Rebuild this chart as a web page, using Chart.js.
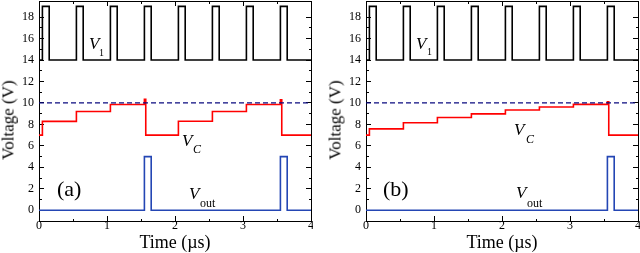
<!DOCTYPE html>
<html>
<head>
<meta charset="UTF-8">
<title>Voltage vs time</title>
<style>
  body { margin: 0; background: #fff; }
  #wrap { position: relative; width: 640px; height: 253px; overflow: hidden;
          font-family: "Liberation Serif", "Times New Roman", serif; font-weight: normal; }
  .panel { position: absolute; top: 0; width: 313px; height: 253px; }
  .lab { position: absolute; line-height: 1; white-space: nowrap; color: #000; }
  .it { font-style: italic; }
  .ytitle { position: absolute; font-size: 17px; line-height: 1; white-space: nowrap; font-weight: normal;
            transform: translate(-50%, -50%) rotate(-90deg); }
</style>
<script src="https://cdn.jsdelivr.net/npm/chart.js"></script>
</head>
<body>
<div id="wrap">
  <div class="panel" style="left:0"><canvas id="chartA" width="313" height="253"></canvas></div>
  <div class="panel" style="left:327px"><canvas id="chartB" width="313" height="253"></canvas></div>

  <span class="ytitle" style="left:8px;top:120px">Voltage (V)</span>
  <span class="ytitle" style="left:335px;top:120px">Voltage (V)</span>

  <!-- panel (a) labels -->
  <span class="lab it" style="left:89px;top:35px;font-size:17px">V</span>
  <span class="lab" style="left:99px;top:47.5px;font-size:10px">1</span>
  <span class="lab it" style="left:182px;top:132px;font-size:17px">V</span>
  <span class="lab it" style="left:193px;top:143px;font-size:12px">C</span>
  <span class="lab it" style="left:189px;top:185px;font-size:17px">V</span>
  <span class="lab" style="left:200px;top:197px;font-size:12px">out</span>
  <span class="lab" style="left:57px;top:177.5px;font-size:22px">(a)</span>

  <!-- panel (b) labels -->
  <span class="lab it" style="left:416px;top:34.5px;font-size:17px">V</span>
  <span class="lab" style="left:427px;top:46.5px;font-size:10px">1</span>
  <span class="lab it" style="left:514px;top:121px;font-size:17px">V</span>
  <span class="lab it" style="left:526px;top:133px;font-size:12px">C</span>
  <span class="lab it" style="left:516px;top:184px;font-size:17px">V</span>
  <span class="lab" style="left:527px;top:197px;font-size:12px">out</span>
  <span class="lab" style="left:383px;top:177.5px;font-size:22px">(b)</span>
</div>

<script>
// V1 square wave (same in both panels): time of each change and new level
var v1Times  = [0, 0.05, 0.15, 0.55, 0.65, 1.05, 1.15, 1.55, 1.65, 2.05, 2.15, 2.55, 2.65, 3.05, 3.15, 3.55, 3.65, 4];
var v1Levels = [14, 19, 14, 19, 14, 19, 14, 19, 14, 19, 14, 19, 14, 19, 14, 19, 14, 14];

// panel (a)
var vcTimesA   = [0, 0.05, 0.55, 1.05, 1.55, 1.57, 2.05, 2.55, 3.05, 3.55, 3.57, 4];
var vcLevelsA  = [7, 8.28, 9.2, 9.85, 10.35, 7, 8.3, 9.2, 9.85, 10.3, 7, 7];
var outTimesA  = [0, 1.55, 1.65, 3.55, 3.65, 4];
var outLevelsA = [0, 5, 0, 5, 0, 0];

// panel (b)
var vcTimesB   = [0, 0.05, 0.55, 1.05, 1.55, 2.05, 2.55, 3.05, 3.55, 3.57, 4];
var vcLevelsB  = [7, 7.58, 8.15, 8.65, 8.98, 9.35, 9.62, 9.87, 10.1, 7, 7];
var outTimesB  = [0, 3.55, 3.65, 4];
var outLevelsB = [0, 5, 0, 0];

// reference level (dashed)
var refTimes  = [0, 4];
var refLevels = [10, 10];

var timeRange = [0, 4];
var voltRange = [-1, 19.5];

Chart.defaults.font.family = "'Liberation Serif', 'Times New Roman', serif";
Chart.defaults.font.weight = 'normal';
Chart.defaults.color = '#000';

function pts(times, levels) {
    return times.map(function (t, i) { return { x: t, y: levels[i] }; });
}

function isMajorX(v) { return Math.abs(v - Math.round(v)) < 1e-6; }
function isMajorY(v) { return Math.abs(v / 2 - Math.round(v / 2)) < 1e-6; }

// minor ticks are shorter: cut them with a dash pattern
function dash(isMajor, fromBorder) {
    return function (ctx) {
        var v = ctx.tick ? ctx.tick.value : 0;
        if (isMajor(v)) return [];
        return fromBorder ? [3, 30] : [0, 2, 3, 30];
    };
}

function grid(isMajor, fromBorder) {
    return {
        drawOnChartArea: false,
        drawTicks: true,
        tickLength: -5,
        tickColor: '#000',
        tickWidth: 1,
        tickBorderDash: dash(isMajor, fromBorder)
    };
}

// keep the plot box where we want it: no extra room for label overhang
function fixBox(w, h) {
    return function (s) {
        if (w !== null) s.width = w;
        if (h !== null) s.height = h;
        s.paddingTop = 0; s.paddingBottom = 0; s.paddingLeft = 0; s.paddingRight = 0;
    };
}

var border = { display: true, color: '#000', width: 1 };
var tickFont = { family: 'Liberation Serif', size: 12, weight: 'normal' };
var titleFont = { family: 'Liberation Serif', size: 18, lineHeight: 1, weight: 'normal' };

function makeChart(id, vcT, vcL, outT, outL) {
    var ctx = document.getElementById(id).getContext('2d');
    return new Chart(ctx, {
        type: 'line',
        data: {
            datasets: [
                { data: pts(v1Times, v1Levels), borderColor: '#000', borderWidth: 1.6, stepped: true, pointRadius: 0 },
                { data: pts(refTimes, refLevels), borderColor: '#0a0a80', borderWidth: 1.2, borderDash: [5, 3], pointRadius: 0 },
                { data: pts(vcT, vcL), borderColor: '#ff0000', borderWidth: 1.6, stepped: true, pointRadius: 0 },
                { data: pts(outT, outL), borderColor: '#2446b4', borderWidth: 1.6, stepped: true, pointRadius: 0 }
            ]
        },
        options: {
            responsive: false,
            animation: false,
            layout: { padding: { top: 1, right: 2, left: 0, bottom: 0 } },
            plugins: { legend: { display: false }, tooltip: { enabled: false } },
            scales: {
                x: {
                    type: 'linear', position: 'bottom',
                    min: timeRange[0], max: timeRange[1],
                    border: border,
                    grid: grid(isMajorX, true),
                    ticks: {
                        stepSize: 0.5, padding: 3, color: '#000', font: tickFont, maxRotation: 0, autoSkip: false,
                        callback: function (v) { return isMajorX(v) ? String(Math.round(v)) : ''; }
                    },
                    title: { display: true, text: 'Time (\u00b5s)', color: '#000', font: titleFont, padding: { top: 0, bottom: 1 } },
                    afterFit: fixBox(null, 32)
                },
                x2: {
                    type: 'linear', position: 'top',
                    min: timeRange[0], max: timeRange[1],
                    border: border,
                    grid: grid(isMajorX, false),
                    ticks: { stepSize: 0.5, autoSkip: false, callback: function () { return ''; } },
                    afterFit: fixBox(null, 0)
                },
                y: {
                    type: 'linear', position: 'left',
                    min: voltRange[0], max: voltRange[1],
                    border: border,
                    grid: grid(isMajorY, false),
                    ticks: {
                        stepSize: 1, padding: 10, color: '#000', font: tickFont, autoSkip: false,
                        callback: function (v) { return isMajorY(v) ? String(Math.round(v)) : ''; }
                    },
                    afterFit: fixBox(39, null)
                },
                y2: {
                    type: 'linear', position: 'right',
                    min: voltRange[0], max: voltRange[1],
                    border: border,
                    grid: grid(isMajorY, true),
                    ticks: { stepSize: 1, autoSkip: false, callback: function () { return ''; } },
                    afterFit: fixBox(0, null)
                }
            }
        }
    });
}

makeChart('chartA', vcTimesA, vcLevelsA, outTimesA, outLevelsA);
makeChart('chartB', vcTimesB, vcLevelsB, outTimesB, outLevelsB);
</script>
</body>
</html>
